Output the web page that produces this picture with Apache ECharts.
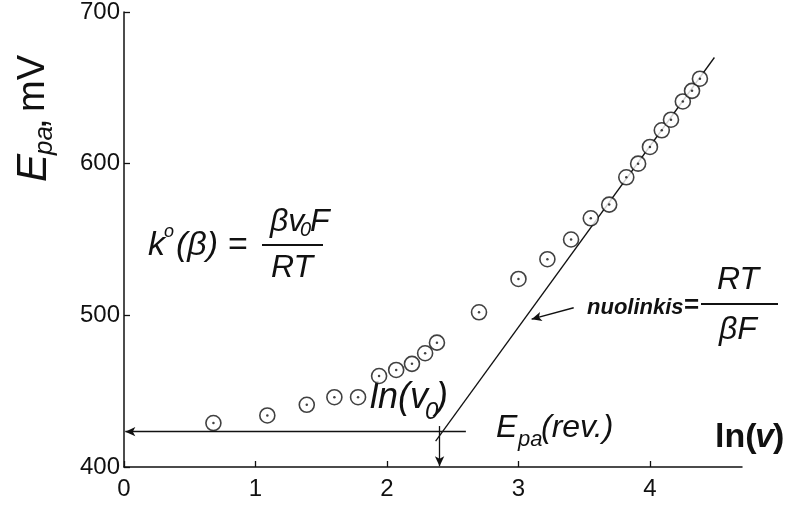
<!DOCTYPE html>
<html>
<head>
<meta charset="utf-8">
<script src="https://cdn.jsdelivr.net/npm/echarts@6/dist/echarts.min.js"></script>
<style>
  html, body { margin: 0; padding: 0; background: #fff; }
  #container { width: 793px; height: 506px; }
</style>
</head>
<body>
<div id="container"></div>
<script>
// measured points, ln(v) vs Epa (mV)
const lnV = [0.68, 1.09, 1.39, 1.60, 1.78, 1.94, 2.07, 2.19, 2.29, 2.38, 2.70, 3.00, 3.22, 3.40, 3.55, 3.69, 3.82, 3.91, 4.00, 4.09, 4.16, 4.25, 4.32, 4.38];
const epa = [429, 434, 441, 446, 446, 460, 464, 468, 475, 482, 502, 524, 537, 550, 564, 573, 591, 600, 611, 622, 629, 641, 648, 656];

// straight line through the upper points
const fitX = [2.37, 4.49];
const fitY = [417, 670];

// Epa(rev.) level and ln(v0)
const revLevel = 423.3;
const lnV0 = 2.40;
const xTicks = [0, 1, 2, 3, 4];
const yTicks = [400, 500, 600, 700];

const FONT = '"Liberation Sans Narrow", "Liberation Sans", Arial, sans-serif';

let dom = document.getElementById("container");
let myChart = echarts.init(dom);

let pts = lnV.map((x, i) => [x, epa[i]]);
let fit = fitX.map((x, i) => [x, fitY[i]]);

function txt(x, y, text, size, opts) {
    opts = opts || {};
    return {
        type: 'text',
        x: x, y: y,
        style: {
            text: text,
            font: (opts.style || 'italic') + ' ' + (opts.weight || 'normal') + ' ' + size + 'px ' + FONT,
            fill: '#111',
            textAlign: opts.align || 'left',
            textVerticalAlign: 'middle'
        }
    };
}

let option = {
    animation: false,
    backgroundColor: '#fff',
    grid: { left: 124, right: 51, top: 12, bottom: 39, containLabel: false },
    xAxis: {
        type: 'value',
        min: 0, max: 4.7, interval: 1,
        axisLine: { lineStyle: { color: '#111', width: 1.5 } },
        axisTick: { inside: true, length: 6, lineStyle: { color: '#111', width: 1.3 } },
        axisLabel: {
            color: '#111', fontSize: 24, fontFamily: FONT, margin: 10,
            formatter: v => xTicks.indexOf(v) >= 0 ? String(v) : '',
            showMaxLabel: false
        },
        splitLine: { show: false }
    },
    yAxis: {
        type: 'value',
        min: 400, max: 700, interval: 100,
        axisLine: { show: true, lineStyle: { color: '#111', width: 1.5 } },
        axisTick: { show: true, inside: true, length: 6, lineStyle: { color: '#111', width: 1.3 } },
        axisLabel: {
            color: '#111', fontSize: 24, fontFamily: FONT, margin: 4,
            formatter: v => yTicks.indexOf(v) >= 0 ? String(v) : ''
        },
        splitLine: { show: false }
    },
    series: [
        {
            type: 'line',
            data: fit,
            symbol: 'none',
            lineStyle: { color: '#111', width: 1.3 },
            silent: true,
            markLine: {
                silent: true,
                symbol: ['none', 'arrow'],
                symbolSize: [7, 10],
                label: { show: false },
                lineStyle: { color: '#111', width: 1.3, type: 'solid' },
                data: [
                    [{ coord: [2.60, revLevel] }, { coord: [0.01, revLevel] }],
                    [{ coord: [lnV0, 427] }, { coord: [lnV0, 400.5] }],
                    [{ coord: [3.42, 505] }, { coord: [3.10, 497.5], lineStyle: { curveness: 0.35 } }]
                ]
            }
        },
        {
            type: 'scatter',
            data: pts,
            symbol: 'circle',
            symbolSize: 15,
            itemStyle: { color: '#fff', borderColor: '#111', borderWidth: 1.6 },
            z: 3
        },
        {
            type: 'scatter',
            data: pts,
            symbol: 'circle',
            symbolSize: 2.5,
            itemStyle: { color: '#111' },
            z: 4
        }
    ],
    graphic: [
        // y axis name
        {
            type: 'group',
            x: 34, y: 182,
            rotation: Math.PI / 2,
            children: [
                txt(0, 0, 'E', 42),
                txt(27, 11, 'pa', 26),
                txt(53, 2, ',', 38, { style: 'normal' }),
                txt(70, 0, 'mV', 38, { style: 'normal' })
            ]
        },
        // x axis name
        txt(715, 438, 'ln(', 34, { style: 'normal', weight: 'bold' }),
        txt(755, 438, 'v', 34, { weight: 'bold' }),
        txt(773, 438, ')', 34, { style: 'normal', weight: 'bold' }),
        // k0(beta) formula
        txt(148, 246, 'k', 34),
        txt(164, 232, 'o', 18),
        txt(176, 246, '(β) =', 34),
        txt(270, 222, 'βv', 32),
        txt(300, 230, '0', 20),
        txt(310, 222, 'F', 32),
        txt(292, 268, 'RT', 32, { align: 'center' }),
        // ln(v0)
        txt(370, 398, 'ln(v', 36),
        txt(425, 412, '0', 24),
        txt(436, 398, ')', 36),
        // Epa(rev.)
        txt(496, 428, 'E', 32),
        txt(518, 440, 'pa', 22),
        txt(541, 428, '(rev.)', 32),
        // slope label
        txt(587, 308, 'nuolinkis', 22, { weight: 'bold' }),
        txt(684, 306, '=', 26, { style: 'normal', weight: 'bold' }),
        txt(738, 280, 'RT', 32, { align: 'center' }),
        txt(738, 330, 'βF', 32, { align: 'center' }),
        {
            type: 'line',
            shape: { x1: 701, y1: 304, x2: 778, y2: 304 },
            style: { stroke: '#111', lineWidth: 2 }
        },
        {
            type: 'line',
            shape: { x1: 262, y1: 245, x2: 323, y2: 245 },
            style: { stroke: '#111', lineWidth: 2 }
        }
    ]
};
myChart.setOption(option);
</script>
</body>
</html>
